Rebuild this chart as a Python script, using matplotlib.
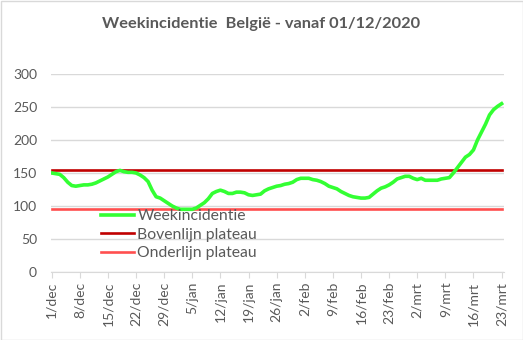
import matplotlib
matplotlib.use("Agg")
import matplotlib.pyplot as plt
from matplotlib.patches import Rectangle

weekincidentie = [
    150, 149, 148, 143, 136, 131, 130, 131, 132, 132,
    133, 135, 138, 141, 144, 148, 152, 154, 152, 151,
    151, 150, 147, 143, 137, 124, 114, 112, 108, 104,
    100, 97, 95, 95, 95, 95, 97, 101, 105, 111,
    119, 122, 124, 122, 119, 119, 121, 121, 120, 117,
    116, 117, 118, 123, 126, 128, 130, 131, 133, 134,
    136, 140, 142, 142, 142, 140, 139, 137, 134, 130,
    128, 126, 122, 119, 116, 114, 113, 112, 112, 113,
    118, 123, 127, 129, 132, 136, 141, 143, 145, 145,
    142, 140, 142, 139, 139, 139, 139, 141, 142, 143,
    150, 158, 166, 174, 178, 185, 200, 212, 224, 238,
    246, 251, 255,
]
bovenlijn_value = 154
onderlijn_value = 96
tick_labels = ["1/dec", "8/dec", "15/dec", "22/dec", "29/dec", "5/jan", "12/jan",
               "19/jan", "26/jan", "2/feb", "9/feb", "16/feb", "23/feb", "2/mrt",
               "9/mrt", "16/mrt", "23/mrt"]
y_ticks = [0, 50, 100, 150, 200, 250, 300]

plt.rcParams['font.family'] = ['Lato', 'DejaVu Sans']
txt = '#595959'
grid = '#d9d9d9'

days = list(range(len(weekincidentie)))
fig = plt.figure(figsize=(5.23, 3.40), dpi=100)
ax = fig.add_axes([51/523, 1-272/340, (504-51)/523, (272-74)/340])

ax.plot(days, weekincidentie, color='#33ff33', lw=2.6, label='Weekincidentie', zorder=4)
ax.plot(days, [bovenlijn_value]*len(days), color='#c00000', lw=1.9, label='Bovenlijn plateau', zorder=3)
ax.plot(days, [onderlijn_value]*len(days), color='#ff4f4f', lw=1.9, label='Onderlijn plateau', zorder=3)

ax.set_ylim(0, 300)
ax.set_xlim(-0.17, 112.6)
ax.set_yticks(y_ticks)
ax.set_xticks(list(range(0, len(days), 7)))
ax.set_xticklabels(tick_labels, rotation=90)
ax.grid(axis='y', color=grid, lw=1)
ax.set_axisbelow(True)
for s in ['top', 'right', 'left']:
    ax.spines[s].set_visible(False)
ax.spines['bottom'].set_color(grid)
ax.tick_params(axis='y', length=0, labelsize=10, labelcolor=txt, pad=10)
ax.tick_params(axis='x', length=4, color=grid, labelsize=10, labelcolor=txt, pad=3)

fig.text(0.5, 1-24/340, 'Weekincidentie  België - vanaf 01/12/2020', ha='center', va='center',
         fontsize=11.8, fontweight='bold', color=txt)

leg = ax.legend(loc='upper left', bbox_to_anchor=((95-51)/453, (272-203)/198), frameon=False,
                fontsize=11.3, labelcolor=txt, handlelength=2.1, handletextpad=0.2,
                labelspacing=0.28, borderaxespad=0)

fig.patches.append(Rectangle((0.5/523, 0.5/340), 1-1/523, 1-1/340, transform=fig.transFigure,
                             fill=False, edgecolor=grid, lw=1))
fig.savefig('out.png', dpi=100)
